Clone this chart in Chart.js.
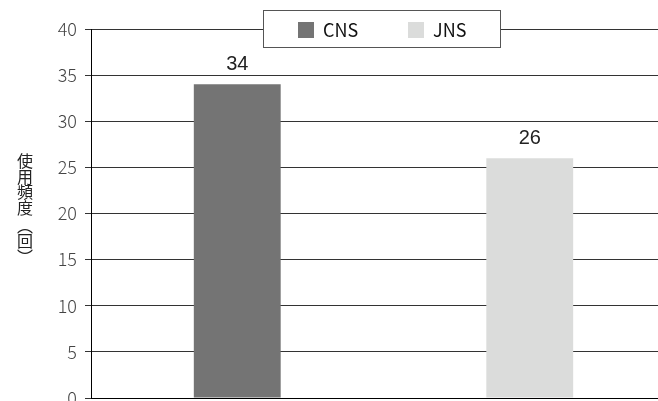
<!DOCTYPE html>
<html>
<head>
<meta charset="utf-8">
<script src="https://cdn.jsdelivr.net/npm/chart.js@4"></script>
<style>
  html, body { margin: 0; padding: 0; background: #fff; overflow: hidden; }
  #chart { display: block; }
</style>
</head>
<body>
<canvas id="chart" width="676" height="401"></canvas>
<script>
// Journal usage counts
const categories = ['CNS', 'JNS'];
const usageCounts = [34, 26];
const barColors = ['#747474', '#dbdcdb'];
const yTitleChars = ['使', '用', '頻', '度', '︵', '回', '︶'];

const jpFont = "'Noto Sans CJK JP', 'Noto Sans', sans-serif";

// Value printed above each bar
const valueLabels = {
    id: 'valueLabels',
    afterDatasetsDraw(chart) {
        const ctx = chart.ctx;
        const meta = chart.getDatasetMeta(0);
        ctx.save();
        ctx.font = "20px 'Liberation Sans', Arial, sans-serif";
        ctx.fillStyle = '#222';
        ctx.textAlign = 'center';
        ctx.textBaseline = 'alphabetic';
        meta.data.forEach((bar, i) => {
            ctx.fillText(String(chart.data.datasets[0].data[i]), bar.x, bar.y - 14);
        });
        ctx.restore();
    }
};

// Boxed legend that sits on top of the 40 gridline
const boxedLegend = {
    id: 'boxedLegend',
    afterDraw(chart) {
        const ctx = chart.ctx;
        const left = 263, top = 10, w = 237, h = 37;
        ctx.save();
        ctx.fillStyle = '#fff';
        ctx.fillRect(left, top, w, h);
        ctx.strokeStyle = '#555';
        ctx.lineWidth = 1;
        ctx.strokeRect(left + 0.5, top + 0.5, w, h);
        ctx.font = '18px ' + jpFont;
        ctx.textBaseline = 'middle';
        ctx.textAlign = 'left';
        chart.data.labels.forEach((label, i) => {
            const x = left + 35 + i * 110;
            ctx.fillStyle = barColors[i];
            ctx.fillRect(x, top + 12, 16, 16);
            ctx.fillStyle = '#111';
            ctx.fillText(label, x + 25, top + 20);
        });
        ctx.restore();
    }
};

// Upright vertical axis title
const verticalTitle = {
    id: 'verticalTitle',
    afterDraw(chart) {
        const ctx = chart.ctx;
        ctx.save();
        ctx.font = '16px ' + jpFont;
        ctx.fillStyle = '#222';
        ctx.textAlign = 'center';
        ctx.textBaseline = 'middle';
        let y = 161;
        yTitleChars.forEach((ch, i) => {
            ctx.fillText(ch, 25, y);
            y += (i === 3) ? 18 : 15.5;
        });
        ctx.restore();
    }
};

new Chart(document.getElementById('chart'), {
    type: 'bar',
    data: {
        labels: categories,
        datasets: [{
            data: usageCounts,
            backgroundColor: barColors,
            borderWidth: 0,
            categoryPercentage: 1,
            barPercentage: 0.297
        }]
    },
    options: {
        responsive: false,
        animation: false,
        layout: { padding: { top: 29, right: 0, bottom: 0, left: 0 } },
        plugins: {
            legend: { display: false },
            tooltip: { enabled: false }
        },
        scales: {
            x: {
                grid: { drawOnChartArea: false, drawTicks: false },
                ticks: { display: false },
                border: { color: '#000', width: 1 },
                afterFit: (scale) => { scale.height = 3; }
            },
            y: {
                min: 0,
                max: 40,
                ticks: {
                    stepSize: 5,
                    padding: 8,
                    color: '#444',
                    font: { family: jpFont, size: 18, weight: 300 }
                },
                grid: { color: '#333', tickColor: '#333', tickLength: 6, lineWidth: 1 },
                border: { color: '#000', width: 1 },
                afterFit: (scale) => {
                    scale.width = 91;
                    scale.paddingTop = 0;
                    scale.paddingBottom = 0;
                }
            }
        }
    },
    plugins: [valueLabels, boxedLegend, verticalTitle]
});
</script>
</body>
</html>
